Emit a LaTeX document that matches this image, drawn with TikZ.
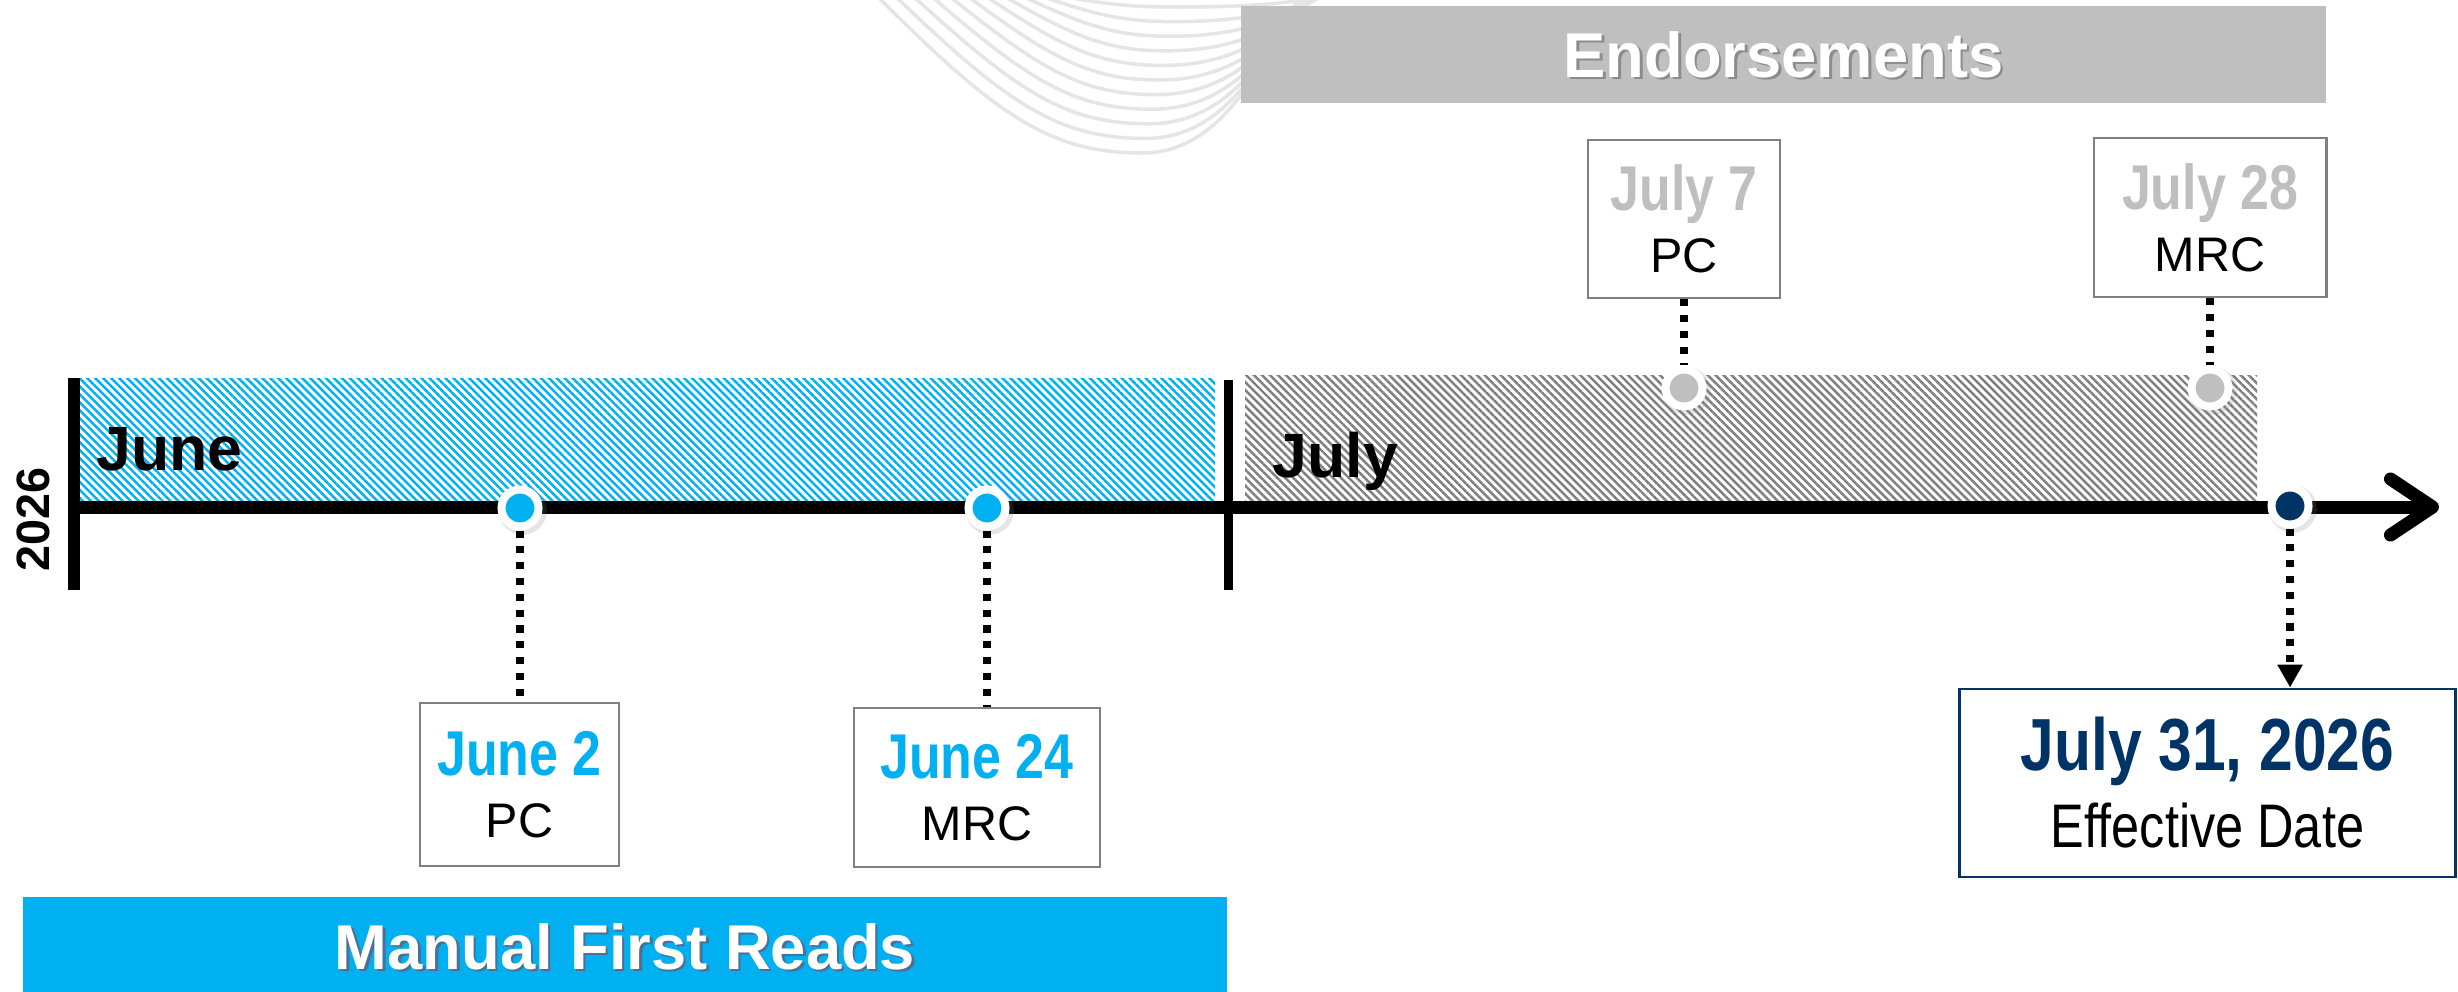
\documentclass[tikz,border=0pt]{standalone}
\usepackage{fontspec}
\setmainfont{Liberation Sans}
\newfontfamily\narrowfont[FakeStretch=0.82]{Liberation Sans}
\usetikzlibrary{arrows.meta,patterns.meta,shadows}

\definecolor{skyblue}{HTML}{00B0F0}
\definecolor{navyblue}{HTML}{003366}
\definecolor{endgray}{HTML}{BFBFBF}
\definecolor{hatchgray}{HTML}{7F7F7F}
\definecolor{boxgray}{HTML}{808080}

\newcommand{\datefont}{\narrowfont\bfseries\fontsize{18pt}{17.6pt}\selectfont}

\tikzset{
  datebox/.style={draw=boxgray, line width=0.8pt, fill=white, inner sep=0pt, align=center,
    font=\fontsize{13.8pt}{17.6pt}\selectfont},
  datedot/.style={circle, fill=#1, draw=white, line width=0.08cm, minimum size=0.37cm, inner sep=0pt,
    drop shadow={shadow xshift=0.6pt, shadow yshift=-0.6pt, shadow scale=1.3, opacity=0.2}},
  dotline/.style={line width=0.075cm, dash pattern=on 2pt off 2.5pt},
  banner/.style={text=white, font=\bfseries\fontsize{18pt}{20pt}\selectfont, inner sep=0pt},
  month/.style={font=\bfseries\fontsize{17.8pt}{20pt}\selectfont, anchor=base west, inner sep=0pt},
  hatch/.style={pattern={Lines[angle=-45,distance=1.6pt,line width=0.7pt]}, pattern color=#1}
}

\begin{document}
\begin{tikzpicture}[x=0.01cm, y=-0.01cm]
\useasboundingbox (0,0) rectangle (2458,991);
\fill[white] (0,0) rectangle (2458,991);
% Draw the faint swirl in the background
\foreach \i in {0,...,10} {
  \pgfmathsetmacro{\xs}{876+18*\i}
  \pgfmathsetmacro{\xm}{1142+3.5*\i}
  \pgfmathsetmacro{\ym}{153-14.6*\i}
  \pgfmathsetmacro{\xe}{1300+3*\i}
  \draw[black!10, line width=1pt] (\xs,-5) .. controls ({\xs+0.45*(\xm-\xs)},{0.75*\ym}) and ({\xm-0.35*(\xm-\xs)},\ym) .. (\xm,\ym)
    .. controls ({\xm+0.5*(\xe-\xm)},\ym) and ({\xe-0.25*(\xe-\xm)},{0.45*\ym}) .. (\xe,-5);
}
% Draw the hatched months
\fill[hatch=skyblue] (80,378) rectangle (1215,502);
\fill[hatch=hatchgray] (1245,375) rectangle (2257,502);
% Draw the two banners
\node[fill=endgray, minimum width=10.85cm, minimum height=0.97cm] (endorse) at (1783.5,54.5) {};
\node[banner, text=black!45] (endorseshade) at (1786,57) {Endorsements};
\node[banner] (endorsetext) at (endorse) {Endorsements};
\node[fill=skyblue, minimum width=12.04cm, minimum height=1.0cm] (manual) at (625,947) {};
\node[banner, text=navyblue!70] (manualshade) at (627.5,949) {Manual First Reads};
\node[banner] (manualtext) at (625,947) {Manual First Reads};
% Draw the time axis
\draw[line width=0.13cm, -{Straight Barb[length=0.42cm, width=0.56cm, line cap=round, line join=round]}] (74,507) -- (2439,507);
\draw[line width=0.11cm] (74,378) -- (74,590);
\draw[line width=0.09cm] (1228,380) -- (1228,590);
\node[month] (june) at (96,470) {June};
\node[month] (july) at (1272,477) {July};
\node[rotate=90, font=\bfseries\fontsize{13.3pt}{15pt}\selectfont, inner sep=0pt] (year) at (33,519) {2026};
% Date boxes
\node[datebox, minimum width=1.99cm, minimum height=1.63cm] (jun2box) at (519.5,784.5) {{\datefont\color{skyblue}June 2}\\PC};
\node[datebox, minimum width=2.46cm, minimum height=1.59cm] (jun24box) at (977,787.5) {{\datefont\color{skyblue}June 24}\\MRC};
\node[datebox, minimum width=1.92cm, minimum height=1.58cm] (jul7box) at (1684,219) {{\datefont\color{endgray}July 7}\\PC};
\node[datebox, minimum width=2.32cm, minimum height=1.59cm] (jul28box) at (2210,217.5) {{\datefont\color{endgray}July 28}\\MRC};
\node[datebox, draw=navyblue, minimum width=4.95cm, minimum height=1.88cm, font=\narrowfont\fontsize{17.5pt}{21.9pt}\selectfont]
  (effbox) at (2207.5,783) {{\narrowfont\bfseries\fontsize{21pt}{21.9pt}\selectfont\color{navyblue}July 31, 2026}\\Effective Date};
% Dots on the axis
\node[datedot=skyblue] (jun2) at (520,508) {};
\node[datedot=skyblue] (jun24) at (987,508) {};
\node[datedot=endgray] (jul7) at (1684,388) {};
\node[datedot=endgray] (jul28) at (2210,388) {};
\node[datedot=navyblue] (jul31) at (2290,506) {};
% Dotted connectors
\draw[dotline] (jun2) -- (jun2 |- jun2box.north);
\draw[dotline] (jun24) -- (jun24 |- jun24box.north);
\draw[dotline] (jul7box.south) -- (jul7);
\draw[dotline] (jul28box.south) -- (jul28);
\draw[dotline, -{Triangle[length=0.23cm, width=0.24cm]}] (jul31) -- (jul31 |- effbox.north);
\end{tikzpicture}
\end{document}
